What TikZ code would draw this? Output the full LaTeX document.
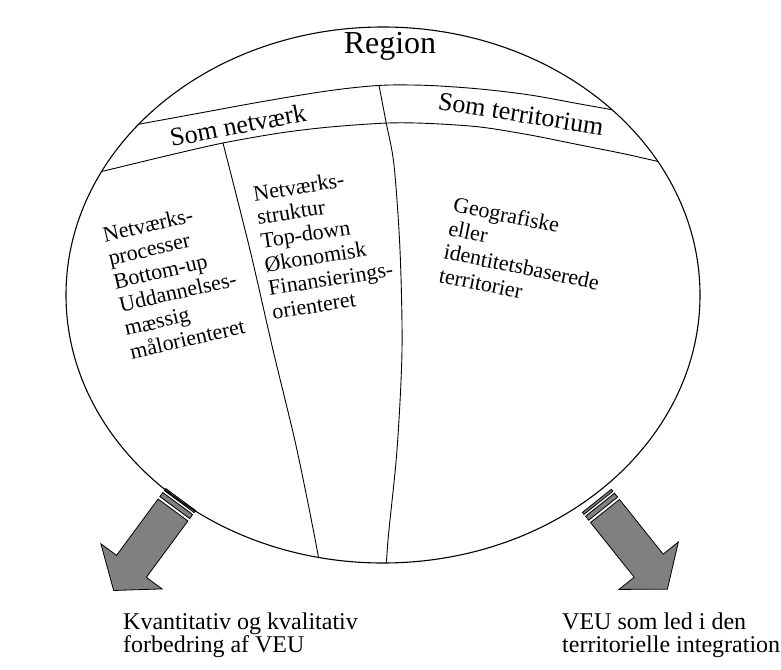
\documentclass[tikz,border=0pt]{standalone}
\usepackage{fontspec}
\setmainfont{Liberation Serif}
\usetikzlibrary{positioning}

\begin{document}
\begin{tikzpicture}[
    x=1pt, y=-1pt,
    outline/.style={line width=1.1pt},
    divider/.style={line width=0.9pt},
    titletext/.style={font=\fontsize{32}{34}\selectfont},
    bandlabel/.style={font=\fontsize{26}{28}\selectfont, inner sep=0pt},
    colitem/.style={font=\fontsize{22}{24}\selectfont, align=left, inner sep=0pt},
    outtext/.style={font=\fontsize{24}{23}\selectfont, align=left, inner sep=0pt, anchor=north west},
    arrowfill/.style={fill=gray, draw=black, line width=0.8pt, line join=miter},
    fatarrow/.pic={
        \filldraw[arrowfill] (0,-18.5) -- (70,-18.5) -- (70,-38) -- (100,0)
            -- (70,38) -- (70,18.5) -- (0,18.5) -- cycle;
        \filldraw[arrowfill] (-8,-18.5) rectangle (-3,18.5);
        \filldraw[arrowfill] (-13,-18.5) rectangle (-10.5,18.5);
    }
]
\useasboundingbox (0,0) rectangle (781,669);

% arrows out of the region
\pic[rotate=233.6] at (173,510) {fatarrow};
\pic[rotate=-51.4] at (605,511) {fatarrow};

% band and columns, cut at the oval
\begin{scope}
    \clip (383,295) ellipse [x radius=317pt, y radius=268pt];
    \draw[divider] plot[smooth] coordinates
        {(90,133) (140,124) (200,113) (260,102) (320,92) (360,87) (390,85)
         (430,85.5) (480,89) (530,95) (580,104) (630,113) (690,124)};
    \draw[divider] plot[smooth] coordinates
        {(70,179) (112,169) (170,155) (223,143) (280,133) (330,127) (388,123)
         (430,123.5) (480,127) (530,135) (580,145) (625,154) (665,163) (710,172)};
    \draw[divider] plot[smooth] coordinates
        {(379,85.5) (386,122) (394,165) (400,250) (402,350) (397,450) (388,540) (385,590)};
    \draw[divider] plot[smooth] coordinates
        {(223,143) (250,250) (273,350) (297,450) (319,560) (322,590)};
\end{scope}
\draw[outline] (383,295) ellipse [x radius=317pt, y radius=268pt];

\node[titletext] (region) at (390,46) {Region};
\node[bandlabel, rotate=11] (netlbl) at (238,125) {Som netværk};
\node[bandlabel, rotate=-9] (terlbl) at (521,114) {Som territorium};

\node[colitem, rotate=13] (netproc) at (175,280)
    {Netværks-\\processer\\Bottom-up\\Uddannelses-\\mæssig\\målorienteret};
\node[colitem, rotate=9] (netstruct) at (325,243)
    {Netværks-\\struktur\\Top-down\\Økonomisk\\Finansierings-\\orienteret};
\node[colitem, rotate=-11.5] (geoterr) at (524,255)
    {Geografiske\\eller\\identitetsbaserede\\territorier};

\node[outtext] (quality) at (123,613) {Kvantitativ og kvalitativ\\forbedring af VEU};
\node[outtext] (integration) at (562,613) {VEU som led i den\\territorielle integration};

\end{tikzpicture}
\end{document}
